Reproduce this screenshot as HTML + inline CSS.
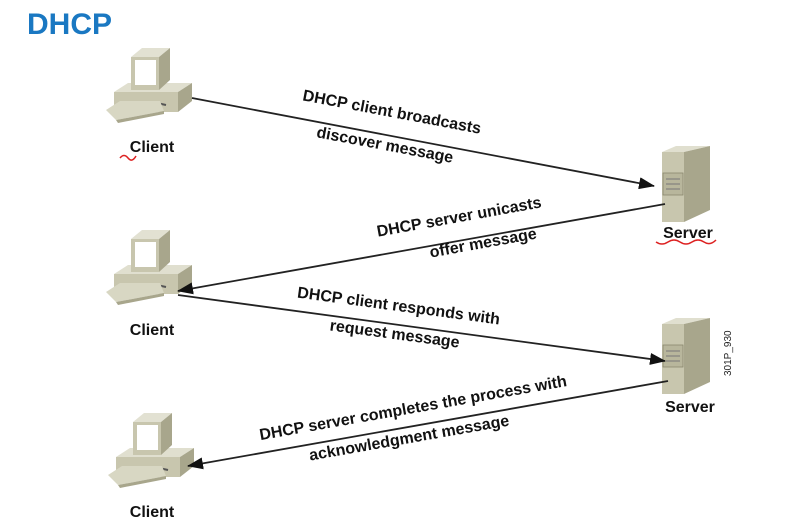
<!DOCTYPE html>
<html><head><style>
body{margin:0;background:#fff;}
svg{display:block;}
text{font-family:"Liberation Sans",Arial,sans-serif;font-weight:bold;}
</style></head><body>
<svg width="787" height="531" viewBox="0 0 787 531" xmlns="http://www.w3.org/2000/svg">
<defs>
<marker id="ah" markerWidth="16" markerHeight="12" refX="15" refY="6" orient="auto" markerUnits="userSpaceOnUse" viewBox="0 0 16 12">
<path d="M0,0 L16,6 L0,12 Z" fill="#111"/></marker>
<g id="pc">
<polygon points="114,92 128,83 192,83 178,92" fill="#e0dfcf"/>
<polygon points="178,92 192,83 192,101 178,112" fill="#a8a68c"/>
<rect x="114" y="92" width="64" height="20" fill="#c8c6ae"/>
<line x1="152" y1="102" x2="166" y2="105" stroke="#555" stroke-width="2"/>
<polygon points="106,110 120,101 160,101 164,111 116,120" fill="#d8d7c3"/>
<polygon points="116,120 164,111 164,114 118,123" fill="#a8a68c"/>
<polygon points="131,57 142,48 170,48 159,57" fill="#e2e1d2"/>
<polygon points="159,57 170,48 170,80 159,90" fill="#a8a68c"/>
<rect x="131" y="57" width="28" height="33" fill="#c8c6ae"/>
<rect x="135" y="60" width="21" height="25" fill="#fff"/>
</g>
<g id="srv">
<polygon points="0,6 14,0 48,0 22,6" fill="#e0dfcf"/>
<rect x="0" y="6" width="22" height="70" fill="#c8c6ae"/>
<polygon points="22,6 48,0 48,64 22,76" fill="#a8a68c"/>
<rect x="1" y="27" width="20" height="22" fill="#b8b69c" stroke="#8a886e" stroke-width="0.8"/>
<line x1="4" y1="33" x2="18" y2="33" stroke="#777" stroke-width="1"/>
<line x1="4" y1="38" x2="18" y2="38" stroke="#777" stroke-width="1"/>
<line x1="4" y1="43" x2="18" y2="43" stroke="#777" stroke-width="1"/>
</g>
</defs>
<text x="27" y="34" font-size="30" fill="#1a78c2">DHCP</text>

<use href="#pc"/>
<use href="#pc" transform="translate(0,182)"/>
<use href="#pc" transform="translate(2,365)"/>
<use href="#srv" x="662" y="146"/>
<use href="#srv" x="662" y="318"/>

<g stroke="#222" stroke-width="1.8" fill="none">
<line x1="192" y1="98" x2="654" y2="186" marker-end="url(#ah)"/>
<line x1="665" y1="204" x2="178" y2="291" marker-end="url(#ah)"/>
<line x1="178" y1="295" x2="665" y2="361" marker-end="url(#ah)"/>
<line x1="668" y1="381" x2="188" y2="466" marker-end="url(#ah)"/>
</g>

<g font-size="16" fill="#111" text-anchor="middle">
<text x="152" y="152">Client</text>
<text x="152" y="335">Client</text>
<text x="152" y="517">Client</text>
<text x="688" y="238">Server</text>
<text x="690" y="412">Server</text>
<text transform="translate(391,117) rotate(10.7)">DHCP client broadcasts</text>
<text transform="translate(384,150) rotate(10.7)">discover message</text>
<text transform="translate(460,222) rotate(-10.2)">DHCP server unicasts</text>
<text transform="translate(484,248) rotate(-10.2)">offer message</text>
<text transform="translate(398,311) rotate(7.6)">DHCP client responds with</text>
<text transform="translate(394,339) rotate(7.6)">request message</text>
<text transform="translate(414,413) rotate(-10)">DHCP server completes the process with</text>
<text transform="translate(410,443) rotate(-10)">acknowledgment message</text>
</g>
<text transform="translate(731,376) rotate(-90)" font-size="10" fill="#222" style="font-weight:normal">301P_930</text>
<path d="M120,158 q4,-5 8,0 t8,-2" stroke="#d22" stroke-width="1.5" fill="none"/>
<path d="M656,242 q6,4 12,0 t12,0 t12,0 t12,0 t12,-2" stroke="#d22" stroke-width="1.5" fill="none"/>
</svg>
</body></html>
